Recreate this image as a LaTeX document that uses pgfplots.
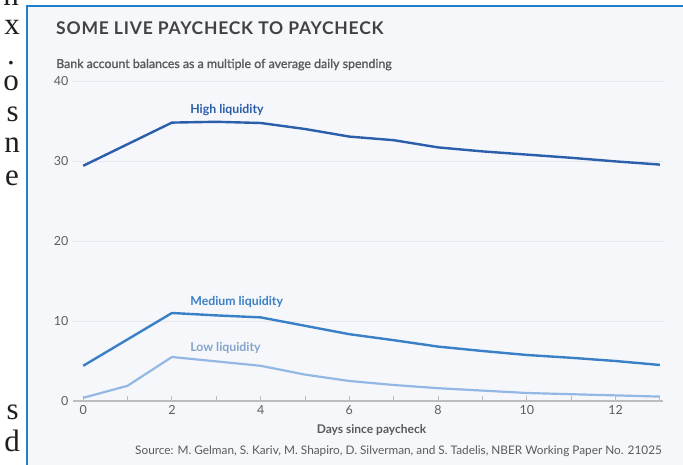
\documentclass[border=0pt]{standalone}
\usepackage{pgfplots}
\pgfplotsset{compat=1.18}
\usepackage{fontspec}
\setmainfont{Lato}
\newfontfamily\serifpage{Liberation Serif}
\newfontfamily\semib[FakeBold=1.2]{Lato}

\definecolor{boxbg}{HTML}{F5F7FA}
\definecolor{boxblue}{HTML}{1F7FCC}
\definecolor{titlegray}{HTML}{424242}
\definecolor{subgray}{HTML}{5A5A5A}
\definecolor{ticklab}{HTML}{5E5E5E}
\definecolor{gridc}{HTML}{E4E7EB}
\definecolor{axisc}{HTML}{BDBDBD}
\definecolor{highc}{HTML}{2B5EAB}
\definecolor{medc}{HTML}{3A80C6}
\definecolor{lowc}{HTML}{93B8E3}

\pgfplotstableread{
day high med low
0  29.4  4.4  0.4
1  32.1  7.7  1.9
2  34.8  11.0 5.5
3  34.9  10.7 4.95
4  34.75 10.45 4.4
5  34.0  9.4  3.3
6  33.05 8.35 2.5
7  32.6  7.6  2.0
8  31.7  6.8  1.6
9  31.2  6.25 1.3
10 30.8  5.75 1.0
11 30.4  5.4  0.85
12 29.95 5.0  0.7
13 29.55 4.5  0.55
}\paydata

\newcommand\pg[1]{\serifpage\fontsize{31}{31}\selectfont #1}

\begin{document}
\begin{tikzpicture}
% page and chart box
\fill[white] (0,0) rectangle (683pt,465pt);
\fill[boxbg] (27pt,0) rectangle (683pt,459pt);
\draw[boxblue,line width=2.2pt] (27pt,0) -- (27pt,459pt) -- (690pt,459pt);

% bits of the page text cut off on the left
\begin{scope}[every node/.style={anchor=base east,inner sep=0pt,text=black!88}]
\node at (19pt,459pt) {\pg{n}};
\node at (20pt,430pt) {\pg{x}};
\node at (15pt,400pt) {\pg{.}};
\node at (19pt,374pt) {\pg{o}};
\node at (19pt,343pt) {\pg{s}};
\node at (20pt,312pt) {\pg{n}};
\node at (19pt,279pt) {\pg{e}};
\node at (19pt,45pt) {\pg{s}};
\node at (20pt,13pt) {\pg{d}};
\end{scope}

\node[anchor=base west,inner sep=0pt,text=titlegray] at (56pt,430pt)
  {\bfseries\fontsize{17.5}{20}\selectfont\addfontfeature{LetterSpace=4.5}SOME LIVE PAYCHECK TO PAYCHECK};
\node[anchor=base west,inner sep=0pt,text=subgray] at (56pt,397pt)
  {\semib\fontsize{12.4}{14}\selectfont Bank account balances as a multiple of average daily spending};

\begin{axis}[
  at={(73pt,64pt)},anchor=south west,scale only axis,
  width=590pt,height=320pt,
  xmin=-0.23,xmax=13.07,ymin=0,ymax=40,
  axis x line*=bottom,axis y line*=left,
  y axis line style={draw=none},
  x axis line style={axisc,line width=1.2pt},
  xtick={0,1,...,13},
  xticklabels={0,,2,,4,,6,,8,,10,,12,},
  ytick={0,10,20,30,40},
  tick align=inside,major tick length=5pt,
  xtick style={axisc,line width=0.9pt},
  ytick style={draw=none},
  ymajorgrids,grid style={gridc,line width=0.8pt},
  tick label style={font=\fontsize{12.5}{14}\selectfont,text=ticklab},
  /pgf/number format/assume math mode=true,
  yticklabel style={xshift=-1pt},
  xticklabel style={yshift=-1pt},
  clip=false,
]
\addplot[highc,line width=2.4pt] table[x=day,y=high] {\paydata};
\addplot[medc,line width=2.4pt] table[x=day,y=med] {\paydata};
\addplot[lowc,line width=2.2pt] table[x=day,y=low] {\paydata};
\node[anchor=west,inner sep=0pt,text=highc,font=\bfseries\fontsize{12.3}{14}\selectfont] at (axis cs:2.41,36.4) {High liquidity};
\node[anchor=west,inner sep=0pt,text=medc,font=\bfseries\fontsize{12.3}{14}\selectfont] at (axis cs:2.41,12.4) {Medium liquidity};
\node[anchor=west,inner sep=0pt,text=lowc!90!black,font=\bfseries\fontsize{12.3}{14}\selectfont] at (axis cs:2.41,6.6) {Low liquidity};
\end{axis}

\node[anchor=base,inner sep=0pt,text=subgray] at (371.5pt,31pt)
  {\bfseries\fontsize{12}{14}\selectfont Days since paycheck};
\node[anchor=base east,inner sep=0pt,text=subgray] at (662pt,10pt)
  {\fontsize{11.8}{14}\selectfont Source: M. Gelman, S. Kariv, M. Shapiro, D. Silverman, and S. Tadelis, NBER Working Paper No. 21025};

\pgfresetboundingbox
\path[use as bounding box] (0,0) rectangle (683pt,465pt);
\end{tikzpicture}
\end{document}
